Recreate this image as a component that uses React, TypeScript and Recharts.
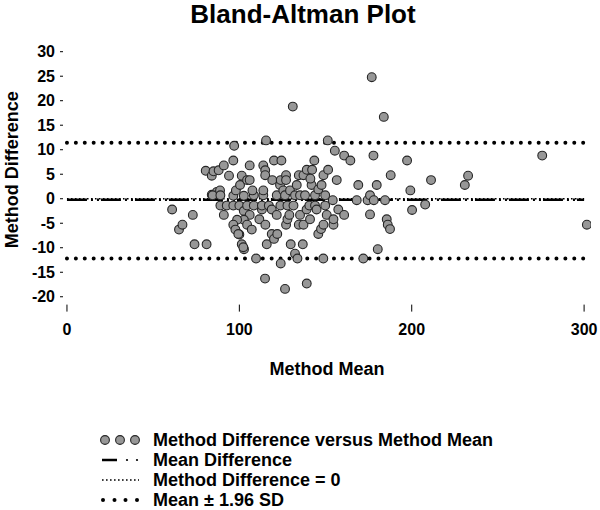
import React from 'react';
import { ScatterChart, Scatter, XAxis, YAxis, ReferenceLine } from 'recharts';

// method mean (x) and method difference (y)
const methodMean = [
  61, 65, 67, 73, 74, 81, 80.5, 84, 85, 88, 84, 87, 91, 94, 97, 96.5, 88.8, 84.5, 89, 89,
  91, 92.7, 96.5, 96.5, 98, 100.4, 101.4, 104.5, 106, 106, 100, 102.6, 102.6, 104.5, 108.4, 108.4, 107.6, 106, 102.6, 98.7,
  96.5, 97.7, 100, 104.5, 107.2, 101.4, 102.7, 109.7, 111.6, 113.1, 113.1, 113.9, 113.9, 113.9, 115, 115, 115.5, 115.1, 115.9, 114.9,
  117.1, 118.8, 118.8, 120.1, 122, 121.7, 121.7, 119.1, 120.1, 123.6, 124, 124.4, 123.8, 124, 125.5, 126.5, 126.5, 127.1, 127.1, 127.9,
  127.1, 127.9, 129, 129.4, 129.8, 131, 131.4, 132.3, 132.3, 133.7, 133.3, 134.5, 134.5, 135.2, 135.2, 137.2, 137.2, 136.8, 138.1, 139.1,
  139, 139.1, 140.6, 141, 141.9, 142.2, 143.5, 143.9, 143.9, 144.8, 145.8, 145.8, 147.4, 147.7, 148.8, 148.8, 148.7, 149.8, 149.8, 150.7,
  151.3, 151.5, 154.2, 154.6, 154.6, 155.4, 156.5, 157.4, 160.8, 160.8, 164.4, 168.1, 169, 171.9, 174.4, 175.8, 175.8, 176.8, 177.8, 178,
  179.7, 180.3, 183.8, 184.5, 185.5, 186.1, 187.4, 187.8, 197.3, 199.2, 200.2, 207.8, 211.2, 230.8, 232.7, 275.7, 301.6, 99.4, 102.3, 141.2,
];
const methodDiff = [
  -2.2, -6.3, -5.3, -3.3, -9.3, -9.3, 5.7, 4.7, 5.6, 5.8, 0.8, 1.4, 6.8, 4.7, 10.8, 7.8, 1.7, 0.7, 0.7, -1.4,
  -3.3, -1.4, -1.4, 0.6, 1.7, 2.8, 4.7, 3.8, 3.8, 6.8, -1.4, 0.6, -2.5, -1.4, -1.4, 0.7, 1.7, -3.3, -4.3, -4.3,
  -5.3, -6.3, -7.3, -5.3, -6.3, -9.3, -10.3, -12.2, -4.2, -2.2, -1.4, 0.7, 1.7, 6.8, 5.8, 4.8, 11.9, -5.3, -9.3, -16.3,
  -1.4, -2.2, -7.2, -8.2, -7.2, -3.3, 0.7, 3.8, 7.8, 2.8, 3.8, 7.8, -1.4, -13.2, 1.7, 0.7, -18.4, 4.8, 3.8, -1.4,
  -5.3, -4.2, -3.3, 1.7, -9.3, 18.8, -1.4, 0.7, -11.2, -12.2, 2.8, 4.8, -5.3, -3.3, 0.7, 4.8, -5.3, -9.3, 0.7, 5.9,
  -2.2, -17.3, -1.4, -4.2, 2.8, 5.9, 7.8, -1.4, 0.7, -2.2, 1.9, -7.2, -6.2, 2.8, 4.8, -5.3, -12.2, -1.4, 0.7, -3.3,
  11.9, 5.9, -0.3, -5.3, -4.2, 9.8, 3.8, -2.2, -3.3, 8.8, 7.8, -0.3, 2.8, -12.2, -0.3, 0.7, -3.2, 24.8, 8.8, -0.3,
  2.8, -10.3, 16.7, -0.3, -4.2, -5.3, -6.2, 4.8, 7.8, 1.7, -2.3, -1.2, 3.8, 2.8, 4.7, 8.8, -5.3, -7.2, -9.9, 4.1,
];

const xTicks = [0, 100, 200, 300];
const yTicks = [-20, -15, -10, -5, 0, 5, 10, 15, 20, 25, 30];
const lineSpan = [0, 300];
const meanDifference = -0.2;
const upperLimit = 11.4;
const lowerLimit = -12.2;

const data = methodMean.map((m, i) => ({ mean: m, diff: methodDiff[i] }));

const FONT = '"Liberation Sans", Arial, Helvetica, sans-serif';
const tickStyle = { fontSize: 16, fontWeight: 700, fill: '#000', fontFamily: FONT };

const Dot = (props: any) => (
  <circle cx={props.cx} cy={props.cy} r={4.4} fill="#979797" stroke="#262626" strokeWidth={1.1} />
);

const yLabel = (props: any) => {
  const vb = props.viewBox;
  const cy = vb.y + vb.height / 2 - 6;
  return (
    <text
      x={12}
      y={cy}
      transform={`rotate(-90, 12, ${cy})`}
      textAnchor="middle"
      dominantBaseline="central"
      style={{ fontSize: 18, fontWeight: 700, fontFamily: FONT }}
      fill="#000"
    >
      Method Difference
    </text>
  );
};

const xLabel = (props: any) => {
  const vb = props.viewBox;
  return (
    <text
      x={vb.x + vb.width / 2}
      y={vb.y + 70}
      textAnchor="middle"
      style={{ fontSize: 18, fontWeight: 700, fontFamily: FONT }}
      fill="#000"
    >
      Method Mean
    </text>
  );
};

function LegendBox() {
  const rows = [440, 460, 480, 500];
  const labels = [
    'Method Difference versus Method Mean',
    'Mean Difference',
    'Method Difference = 0',
    'Mean \u00b1 1.96 SD',
  ];
  return (
    <svg width={600} height={110} style={{ position: 'absolute', left: 0, top: 400 }}>
      <g transform="translate(0,-400)">
        {[105, 120, 135].map(cx => (
          <circle key={cx} cx={cx} cy={rows[0]} r={4.4} fill="#979797" stroke="#262626" strokeWidth={1.1} />
        ))}
        <line x1={102} x2={117} y1={rows[1]} y2={rows[1]} stroke="#000" strokeWidth={2.5} />
        <circle cx={127} cy={rows[1]} r={1.1} fill="#000" />
        <circle cx={137} cy={rows[1]} r={1.1} fill="#000" />
        <line x1={102} x2={139} y1={rows[2]} y2={rows[2]} stroke="#000" strokeWidth={1.6} strokeDasharray="1.6 2.4" />
        {[103, 114.5, 125.5, 137].map(cx => (
          <circle key={cx} cx={cx} cy={rows[3]} r={2} fill="#000" />
        ))}
        {labels.map((t, i) => (
          <text key={t} x={153} y={rows[i] + 6.4} style={{ fontSize: 18, fontWeight: 700, fontFamily: FONT }} fill="#000">
            {t}
          </text>
        ))}
      </g>
    </svg>
  );
}

export default function App() {
  return (
    <div style={{ position: 'relative', width: 600, height: 510, background: '#fff', fontFamily: FONT }}>
      <style>{'body{margin:0}'}</style>
      <div
        style={{
          position: 'absolute',
          top: 1,
          left: 3,
          width: 600,
          textAlign: 'center',
          fontSize: 26,
          lineHeight: '26px',
          fontWeight: 700,
          color: '#000',
        }}
      >
        Bland-Altman Plot
      </div>
      <ScatterChart width={600} height={510} margin={{ top: 46.8, right: 9, bottom: 125.4, left: 0 }}>
        <XAxis
          type="number"
          dataKey="mean"
          domain={[-2.3, 304]}
          ticks={xTicks}
          allowDataOverflow
          axisLine={false}
          tickLine={{ stroke: '#000' }}
          tickSize={7}
          tickMargin={11.7}
          tick={tickStyle}
          height={80}
          label={{ content: xLabel }}
        />
        <YAxis
          type="number"
          dataKey="diff"
          domain={[-21.6, 31]}
          ticks={yTicks}
          allowDataOverflow
          axisLine={false}
          tickLine={{ stroke: '#000' }}
          tickSize={3}
          tickMargin={5}
          tick={tickStyle}
          width={63}
          label={{ content: yLabel }}
        />
        <ReferenceLine
          segment={[{ x: lineSpan[0], y: 0 }, { x: lineSpan[1], y: 0 }]}
          stroke="#000"
          strokeWidth={1.6}
          strokeDasharray="1.6 2.4"
        />
        <ReferenceLine
          segment={[{ x: lineSpan[0], y: meanDifference }, { x: lineSpan[1], y: meanDifference }]}
          stroke="#000"
          strokeWidth={2.5}
          strokeDasharray="20 4 2 4 2 2"
        />
        <ReferenceLine
          segment={[{ x: lineSpan[0], y: upperLimit }, { x: lineSpan[1], y: upperLimit }]}
          stroke="#000"
          strokeWidth={4}
          strokeLinecap="round"
          strokeDasharray="0 8.9"
        />
        <ReferenceLine
          segment={[{ x: lineSpan[0], y: lowerLimit }, { x: lineSpan[1], y: lowerLimit }]}
          stroke="#000"
          strokeWidth={4}
          strokeLinecap="round"
          strokeDasharray="0 8.9"
        />
        <Scatter data={data} shape={Dot} isAnimationActive={false} />
      </ScatterChart>
      <LegendBox />
    </div>
  );
}
